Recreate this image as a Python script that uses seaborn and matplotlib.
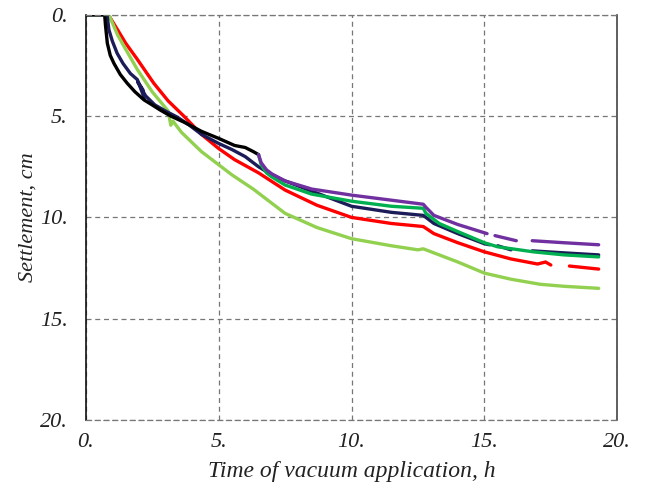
import numpy as np
import pandas as pd
import seaborn as sns
import matplotlib.pyplot as plt
import matplotlib.font_manager as fm

nan = np.nan

# Series data (time h, settlement cm); NaN marks gaps in the recorded lines
red_t = [0.85, 1.2, 1.5, 1.94, 2.56, 3.1, 3.69, 4.35, 5.0, 5.6, 6.5, 7.5, 8.7, 10, 11.5, 12.7, 13.1, 14, 15, 16, 17, 17.3, 17.5, nan, 18.2, 19.3]
red_s = [0, 0.75, 1.4, 2.2, 3.38, 4.25, 5.0, 5.9, 6.6, 7.15, 7.8, 8.65, 9.4, 10.0, 10.3, 10.45, 10.8, 11.25, 11.7, 12.05, 12.3, 12.2, 12.35, nan, 12.4, 12.55]

lime_t = [0, 0.87, 1.2, 1.5, 1.94, 2.5, 3.1, 3.2, 3.28, 3.6, 4.35, 5.5, 6.3, 6.6, 7.5, 8.7, 10, 11.5, 12.5, 12.7, 13.1, 14, 15, 16, 17.1, 18, 19.3]
lime_s = [0, 0, 1.0, 1.7, 2.7, 3.8, 4.75, 5.45, 5.25, 5.8, 6.75, 7.9, 8.6, 8.9, 9.8, 10.5, 11.05, 11.4, 11.6, 11.55, 11.75, 12.2, 12.75, 13.05, 13.3, 13.4, 13.5]

navy_t = [0, 0.8, 0.87, 1.0, 1.18, 1.4, 1.68, 1.94, 2.2, 2.15, 1.95, 2.25, 2.6, 3.0, 3.44, 3.9, 4.35, 5.0, 5.5, 6.0, 6.5, 7.0, 7.5, 8.5, 10, 11.5, 12.7, 13.1, 14, 15, 15.2, nan, 15.5, 16.0, nan, 16.8, 18, 19.3]
navy_s = [0, 0, 0.74, 1.3, 1.9, 2.4, 2.9, 3.2, 4.1, 3.7, 3.3, 4.0, 4.45, 4.75, 5.05, 5.45, 5.9, 6.35, 6.65, 7.0, 7.5, 7.9, 8.2, 8.7, 9.45, 9.75, 9.9, 10.3, 10.8, 11.3, 11.35, nan, 11.4, 11.6, nan, 11.65, 11.75, 11.85]

black_t = [0, 0.71, 0.74, 0.81, 0.92, 1.06, 1.3, 1.56, 1.85, 2.19, 2.5, 2.8, 3.2, 3.7, 4.35, 5.0, 5.6, 6.0, 6.3, 6.5]
black_s = [0, 0, 0.5, 1.4, 2.0, 2.4, 2.95, 3.38, 3.8, 4.2, 4.45, 4.7, 5.0, 5.3, 5.75, 6.1, 6.45, 6.55, 6.75, 6.9]

purple_t = [6.5, 6.6, 6.8, 7.0, 7.5, 8.5, 10, 11.5, 12.7, 12.8, 13.1, 14, 15.1, nan, 15.4, 16.2, nan, 16.8, 18, 19.3]
purple_s = [6.9, 7.3, 7.65, 7.85, 8.2, 8.6, 8.9, 9.15, 9.35, 9.5, 9.9, 10.35, 10.8, nan, 10.9, 11.15, nan, 11.15, 11.25, 11.35]

green_t = [6.5, 6.6, 6.8, 7.0, 7.5, 8.5, 10, 11.5, 12.7, 12.8, 13.3, 14, 15, 15.5, 16.85, 18, 19.3]
green_s = [6.9, 7.4, 7.8, 8.0, 8.4, 8.85, 9.2, 9.45, 9.55, 9.8, 10.3, 10.7, 11.25, 11.45, 11.7, 11.85, 11.95]

x_ticks = [0, 5, 10, 15, 20]
y_ticks = [0, 5, 10, 15, 20]
x_tick_labels = ["0.", "5.", "10.", "15.", "20."]
y_tick_labels = ["0.", "5.", "10.", "15.", "20."]

series = [
    ("red", red_t, red_s, "#ff0000"),
    ("lime", lime_t, lime_s, "#92d050"),
    ("navy", navy_t, navy_s, "#1c1c58"),
    ("black", black_t, black_s, "#000000"),
    ("green", green_t, green_s, "#00b050"),
    ("purple", purple_t, purple_s, "#7030a0"),
]

rows = []
for name, ts, ss, _ in series:
    seg = 0
    for t, s in zip(ts, ss):
        if np.isnan(t):
            seg += 1
            continue
        rows.append({"series": name, "seg": f"{name}{seg}", "t": t, "s": s})
df = pd.DataFrame(rows)
palette = {name: c for name, _, _, c in series}

sns.set_theme(style="white")
plt.rcParams["font.family"] = ["Liberation Serif", "DejaVu Serif"]

# locate an italic Times-like font file
italic_path = None
for key in ["LiberationSerif-Italic", "FreeSerifItalic", "DejaVuSerif-Italic"]:
    for f in fm.findSystemFonts():
        if key in f:
            italic_path = f
            break
    if italic_path:
        break


def fp(size):
    if italic_path:
        return fm.FontProperties(fname=italic_path, size=size)
    return fm.FontProperties(family="serif", style="italic", size=size)


fig = plt.figure(figsize=(6.45, 4.93), dpi=100)
ax = fig.add_axes([0.133, 0.148, 0.824, 0.822])

for name, _, _, _ in series:
    sub = df[df["series"] == name]
    for seg, g in sub.groupby("seg", sort=False):
        sns.lineplot(data=g, x="t", y="s", color=palette[name], lw=2.4,
                     estimator=None, sort=False, ax=ax, legend=False)

ax.set_xlim(0, 20)
ax.set_ylim(20, 0)
ax.set_xticks(x_ticks)
ax.set_xticklabels(x_tick_labels, fontproperties=fp(16))
ax.set_yticks(y_ticks)
ax.set_yticklabels(y_tick_labels, fontproperties=fp(16))
ax.tick_params(axis="both", length=0, colors="#222222")
ax.tick_params(axis="x", pad=9)
ax.tick_params(axis="y", pad=13)
ax.grid(True, color="#777777", linestyle=(0, (4, 3)), linewidth=0.9)

for side in ["top", "bottom"]:
    ax.spines[side].set_color("#777777")
    ax.spines[side].set_linestyle((0, (4, 3)))
    ax.spines[side].set_linewidth(0.9)
ax.spines["left"].set_color("#111111")
ax.spines["left"].set_linewidth(1.2)
ax.spines["right"].set_color("#444444")
ax.spines["right"].set_linewidth(1.2)

ax.set_xlabel("Time of vacuum application, h", fontproperties=fp(17), labelpad=7, color="#222222")
ax.set_ylabel("Settlement, cm", fontproperties=fp(16), labelpad=2, color="#222222")

fig.savefig("out.png", dpi=100, facecolor="white")
